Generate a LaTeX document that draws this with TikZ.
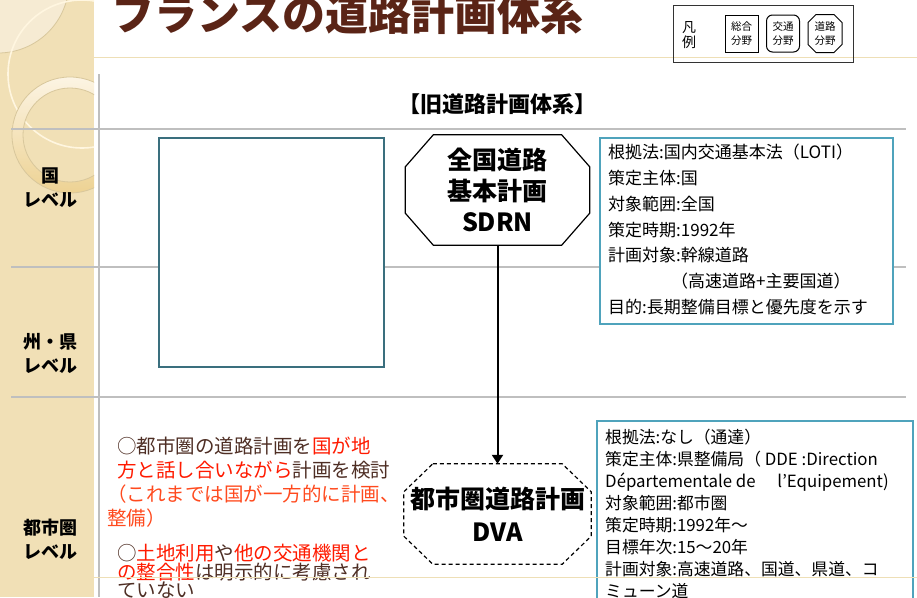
\documentclass[tikz,border=0pt]{standalone}
\usepackage{fontspec}
\setmainfont{Noto Sans CJK JP}
\usetikzlibrary{arrows.meta,calc}

\definecolor{bandcol}{HTML}{F1E0B6}
\definecolor{palecol}{HTML}{F6EBD3}
\definecolor{ringedge}{HTML}{D8C79C}
\definecolor{creamline}{HTML}{FFF6E0}
\definecolor{ringlight}{HTML}{FCF4E3}
\definecolor{ringdark}{HTML}{EDD293}
\definecolor{gridgray}{HTML}{BFBFBF}
\definecolor{rulecol}{HTML}{EEDFB6}
\definecolor{titlecol}{HTML}{5A2416}
\definecolor{tealcol}{HTML}{4FA3BC}
\definecolor{darkteal}{HTML}{3A6F7E}
\definecolor{browncol}{HTML}{4E2E24}
\definecolor{redcol}{HTML}{FF1A00}
\definecolor{orangered}{HTML}{FF4A1E}

% octagonal frame drawn round a rectangular node: node, chamfer x, chamfer y, style
\newcommand{\octframe}[4]{%
  \draw[#4] ($(#1.north west)+(#2,0)$) -- ($(#1.north east)+(-#2,0)$)
    -- ($(#1.north east)+(0,#3)$) -- ($(#1.south east)+(0,-#3)$)
    -- ($(#1.south east)+(-#2,0)$) -- ($(#1.south west)+(#2,0)$)
    -- ($(#1.south west)+(0,-#3)$) -- ($(#1.north west)+(0,#3)$) -- cycle;}

\tikzset{
  gridline/.style={draw=gridgray, line width=2pt},
  thinrule/.style={draw=rulecol, line width=1pt},
  infobox/.style={draw=tealcol, line width=1.5pt, fill=white, anchor=north west, inner sep=0pt},
  infotext/.style={anchor=north west, inner sep=0pt, align=left},
  levellabel/.style={align=center, inner sep=0pt, font=\bfseries\fontsize{18}{24}\selectfont},
  plannode/.style={rectangle, inner sep=0pt, align=center},
  planframe/.style={draw=black, line width=1.2pt},
  legendbox/.style={draw=black, line width=1pt, minimum width=33pt, minimum height=37pt,
    inner sep=0pt, align=center, font=\fontsize{10.5}{14}\selectfont},
  notetext/.style={anchor=north west, inner sep=0pt, align=left, text=browncol},
}

\begin{document}
\begin{tikzpicture}[x=1pt,y=-1pt]
\useasboundingbox (0,0) rectangle (917,597);
\clip (0,0) rectangle (917,597);

% side band with its rings
\fill[bandcol] (0,0) rectangle (94,597);
\begin{scope}
  \clip (0,0) rectangle (94,597);
  \fill[palecol] (-2,-18) circle (71);
  \draw[ringedge, line width=0.8pt] (-2,-18) circle (71);
  \draw[creamline, line width=1.6pt] (82,74) circle (74);
  \shade[even odd rule, top color=ringlight, bottom color=ringdark]
    (70,135) circle (58) (70,135) circle (47);
  \draw[ringedge, line width=0.8pt] (70,135) circle (58) (70,135) circle (47);
\end{scope}

% header rules
\draw[thinrule] (94,57) -- (917,57);

% level grid
\draw[gridline] (99,74) -- (99,597);
\draw[gridline] (11,129) -- (906,129);
\draw[gridline] (11,267) -- (906,267);
\draw[gridline] (11,397) -- (906,397);

% title
\node[anchor=base west, inner sep=0pt, text=titlecol,
      font=\bfseries\fontsize{43}{43}\selectfont] (title) at (111,30) {フランスの道路計画体系};

% legend
\node[draw=black!80, line width=1.3pt, minimum width=180pt, minimum height=57pt,
      anchor=north west, inner sep=0pt] (legend) at (673,5) {};
\node[align=center, inner sep=0pt, font=\fontsize{14}{15}\selectfont] (legendhead) at (689,35) {凡\\例};
\node[legendbox] (legsogo) at (741.5,33.5) {総合\\分野};
\node[legendbox, rounded corners=6pt] (legkotsu) at (783,33.5) {交通\\分野};
\node[legendbox, draw=none] (legdoro) at (825,33.5) {道路\\分野};
\octframe{legdoro}{8}{8}{draw=black, line width=1pt}

% subtitle
\node[font=\bfseries\fontsize{22}{22}\selectfont, inner sep=0pt] (subtitle) at (497,104) {【旧道路計画体系】};

% level labels
\node[levellabel] (lvnation) at (50,188) {国\\レベル};
\node[levellabel] (lvregion) at (50,353) {州・県\\レベル};
\node[levellabel] (lvurban) at (50,539) {都市圏\\レベル};

% empty panel
\node[draw=darkteal, line width=1.8pt, fill=white, minimum width=225pt, minimum height=229pt,
      anchor=north west, inner sep=0pt] (blankpanel) at (158,137) {};

% plans
\node[plannode, minimum width=184pt, minimum height=110pt,
      font=\bfseries\fontsize{25}{31}\selectfont] (sdrn) at (497.5,190) {全国道路\\基本計画\\SDRN};
\octframe{sdrn}{28}{32}{planframe}

\node[plannode, minimum width=187pt, minimum height=100pt,
      font=\bfseries\fontsize{25}{33}\selectfont] (dva) at (497.5,514) {都市圏道路計画\\DVA};
\octframe{dva}{29}{28}{planframe, dashed, dash pattern=on 4pt off 3pt}

\draw[line width=2pt, -{Triangle[length=9pt,width=11pt]}] (sdrn.south) -- (dva.north);

% national plan outline
\node[infobox, minimum width=293pt, minimum height=186pt] (lawbox1) at (599,137) {};
\node[infotext, font=\fontsize{17}{25.8}\selectfont] (lawtext1) at (608,144) {%
根拠法:国内交通基本法（LOTI）\\
策定主体:国\\
対象範囲:全国\\
策定時期:1992年\\
計画対象:幹線道路\\
\hspace*{3.7em}（高速道路+主要国道）\\
目的:長期整備目標と優先度を示す};

% urban plan outline
\node[infobox, minimum width=316pt, minimum height=200pt] (lawbox2) at (596,420) {};
\node[infotext, font=\fontsize{16.8}{22}\selectfont] (lawtext2) at (605,428.5) {%
根拠法:なし（通達）\\
策定主体:県整備局（ DDE :Direction\\
Départementale de\hspace{1.3em}l’Equipement)\\
対象範囲:都市圏\\
策定時期:1992年～\\
目標年次:15～20年\\
計画対象:高速道路、国道、県道、コ\\
ミューン道};

% notes on the urban plan
\node[notetext, font=\fontsize{19.5}{24}\selectfont] (note1) at (117,436.5) {%
○都市圏の道路計画を\textcolor{redcol}{国が地}\\
\textcolor{redcol}{方と話し合いながら}計画を検討\\
\hspace*{-0.5em}\textcolor{orangered}{（これまでは国が一方的に計画、}\\
\hspace*{-0.5em}\textcolor{orangered}{整備）}};

\node[notetext, font=\fontsize{19.5}{18}\selectfont] (note2) at (117,544) {%
○\textcolor{redcol}{土地利用}や\textcolor{redcol}{他の交通機関と}\\
\textcolor{redcol}{の整合性}は明示的に考慮され\\
ていない};

% footer rule
\draw[thinrule] (94,577) -- (917,577);
\end{tikzpicture}
\end{document}
